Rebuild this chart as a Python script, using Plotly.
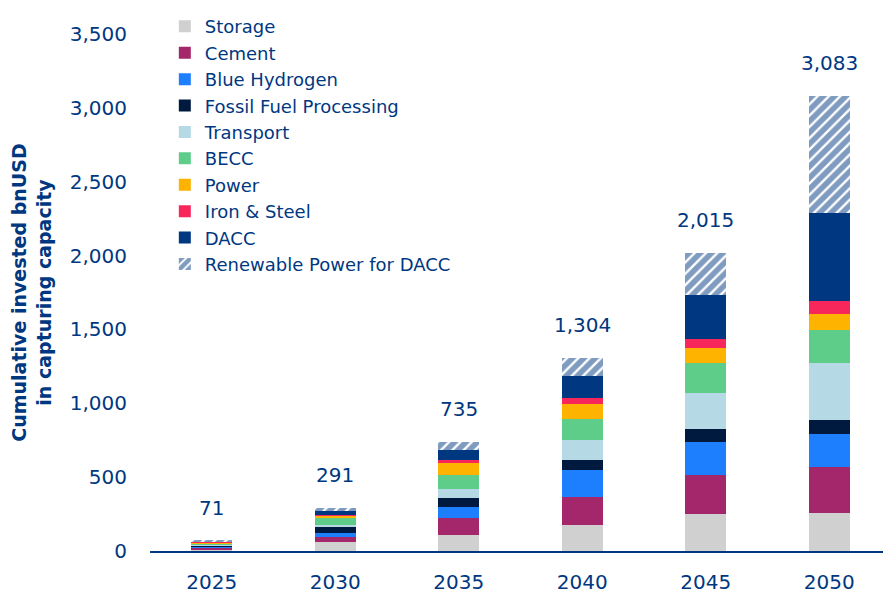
import plotly.graph_objects as go

years = ["2025", "2030", "2035", "2040", "2045", "2050"]
totals = [71, 291, 735, 1304, 2015, 3083]

storage = [12, 58, 105, 174, 250, 260]
cement = [10, 38, 116, 194, 267, 310]
blue_hydrogen = [8, 29, 78, 178, 223, 225]
fossil_fuel = [6, 36, 60, 71, 85, 91]
transport = [8, 16, 62, 134, 245, 390]
becc = [10, 44, 91, 144, 203, 223]
power = [4, 16, 87, 100, 102, 104]
iron_steel = [3, 5, 20, 40, 60, 89]
dacc = [4, 27, 65, 150, 299, 595]
renewable_dacc = [6, 22, 51, 119, 281, 796]

series = [
    ("Storage", storage, "#d0d0d0"),
    ("Cement", cement, "#a5276b"),
    ("Blue Hydrogen", blue_hydrogen, "#1e7ffe"),
    ("Fossil Fuel Processing", fossil_fuel, "#001a3f"),
    ("Transport", transport, "#b5d9e5"),
    ("BECC", becc, "#5fcd8a"),
    ("Power", power, "#fdb300"),
    ("Iron & Steel", iron_steel, "#f8275b"),
    ("DACC", dacc, "#003781"),
]

NAVY = "#003781"
FONT = "DejaVu Sans"

fig = go.Figure()
for name, vals, col in series:
    fig.add_trace(go.Bar(
        x=years, y=vals, name=name,
        marker=dict(color=col, line=dict(width=0)),
    ))
fig.add_trace(go.Bar(
    x=years, y=renewable_dacc, name="Renewable Power for DACC",
    marker=dict(color=NAVY, line=dict(width=0),
                pattern=dict(shape="/", fgcolor=NAVY, bgcolor="white",
                             size=8, solidity=0.7)),
))

for i, tot in enumerate(totals):
    fig.add_annotation(x=i, y=tot, xref="x", yref="y", text=f"{tot:,}",
                       showarrow=False, yshift=33, yanchor="middle",
                       font=dict(family=FONT, size=20, color=NAVY))

# page body has an 8px margin: shrink the figure so it fills the window
fig.update_layout(
    width=883, height=586,
    margin=dict(l=142, r=0, t=17, b=43),
    barmode="stack",
    bargap=0.67,
    plot_bgcolor="white", paper_bgcolor="white",
    font=dict(family=FONT, color=NAVY, size=18),
    legend=dict(
        x=0.02, y=1.05, xanchor="left", yanchor="top",
        traceorder="normal",
        font=dict(family=FONT, size=18, color=NAVY),
        bgcolor="rgba(0,0,0,0)",
        maxheight=500,
    ),
    showlegend=True,
)
fig.update_xaxes(
    type="category", range=[-0.5, 5.5], autorange=False,
    showline=True, linecolor=NAVY, linewidth=2,
    showgrid=False, ticks="",
    tickfont=dict(family=FONT, size=20, color=NAVY),
    ticklabelstandoff=12,
)
fig.update_yaxes(
    range=[0, 3500], autorange=False,
    tickvals=[0, 500, 1000, 1500, 2000, 2500, 3000, 3500],
    tickformat=",d",
    showline=False, showgrid=False, zeroline=False,
    tickfont=dict(family=FONT, size=20, color=NAVY),
    ticklabelstandoff=22,
    title=dict(text="<b>Cumulative invested bnUSD<br>in capturing capacity</b>",
               font=dict(family=FONT, size=19, color=NAVY), standoff=16),
)

fig.write_html("out.html")
